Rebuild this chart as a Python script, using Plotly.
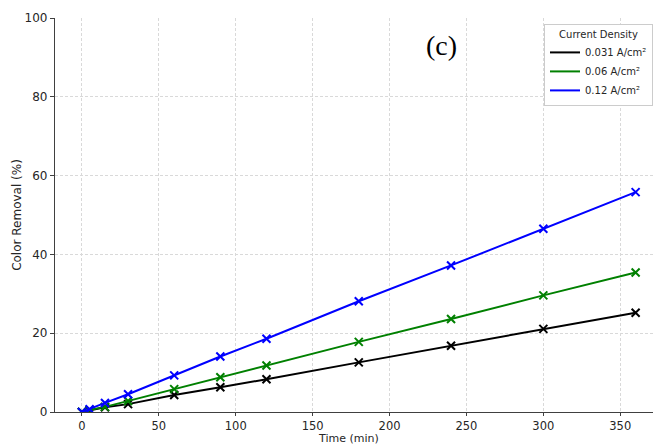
import plotly.graph_objects as go

time_min = [0, 5, 15, 30, 60, 90, 120, 180, 240, 300, 360]
removal_031 = [0, 0.4, 1.2, 2.0, 4.3, 6.3, 8.3, 12.6, 16.8, 21.1, 25.2]
removal_06 = [0, 0.5, 1.3, 2.8, 5.8, 8.8, 11.8, 17.8, 23.6, 29.6, 35.4]
removal_12 = [0, 0.7, 2.3, 4.5, 9.3, 14.1, 18.6, 28.1, 37.2, 46.5, 55.8]

series_names = ["0.031 A/cm²", "0.06 A/cm²", "0.12 A/cm²"]
series_colors = ["black", "green", "blue"]
series_values = [removal_031, removal_06, removal_12]

fig = go.Figure()
for name, color, vals in zip(series_names, series_colors, series_values):
    fig.add_trace(go.Scatter(
        x=time_min, y=vals, mode="lines+markers", name=name,
        line=dict(color=color, width=2),
        marker=dict(symbol="x-thin", size=8, line=dict(color=color, width=2), color=color),
        showlegend=False,
    ))
for name, color in zip(series_names, series_colors):
    fig.add_trace(go.Scatter(
        x=[None], y=[None], mode="lines", name=name,
        line=dict(color=color, width=2), showlegend=True,
    ))

font = "DejaVu Sans, sans-serif"
grid = dict(showgrid=True, gridcolor="#d9d9d9", griddash="3px,2px", gridwidth=0.8)
fig.update_layout(
    width=653, height=446,
    margin=dict(l=55, r=0, t=18, b=34),
    plot_bgcolor="white", paper_bgcolor="white",
    font=dict(family=font, size=12, color="#262626"),
    showlegend=True,
    legend=dict(
        x=1.0, y=0.985, xanchor="right", yanchor="top",
        bgcolor="white", bordercolor="#cccccc", borderwidth=1,
        font=dict(size=10, color="#262626"),
        title=dict(text="Current Density", side="top center", font=dict(size=10)),
        tracegroupgap=0, itemwidth=30,
    ),
    xaxis=dict(
        range=[-17.5, 371.3], tickvals=[0, 50, 100, 150, 200, 250, 300, 350],
        showline=True, linecolor="#404040", linewidth=1.2,
        ticks="outside", ticklen=3, tickcolor="#404040",
        tickfont=dict(size=11.5),
        zeroline=False, automargin=False,
        **grid,
    ),
    yaxis=dict(
        range=[0, 100], tickvals=[0, 20, 40, 60, 80, 100],
        showline=True, linecolor="#404040", linewidth=1.2,
        ticks="outside", ticklen=4, tickcolor="#404040",
        zeroline=False, automargin=False,
        title=dict(text="Color Removal (%)", font=dict(size=12), standoff=0),
        **grid,
    ),
    annotations=[
        dict(
            text="(c)", x=0.647, y=0.93, xref="paper", yref="paper",
            xanchor="center", yanchor="middle", showarrow=False,
            font=dict(family="Liberation Serif, DejaVu Serif, serif", size=28, color="black"),
        ),
        dict(
            text="Time (min)", x=0.49, y=-0.0863, xref="paper", yref="paper",
            xanchor="center", yanchor="bottom", showarrow=False, borderpad=0,
            font=dict(size=11, color="#262626"),
        ),
    ],
)

fig.write_html("out.html")
